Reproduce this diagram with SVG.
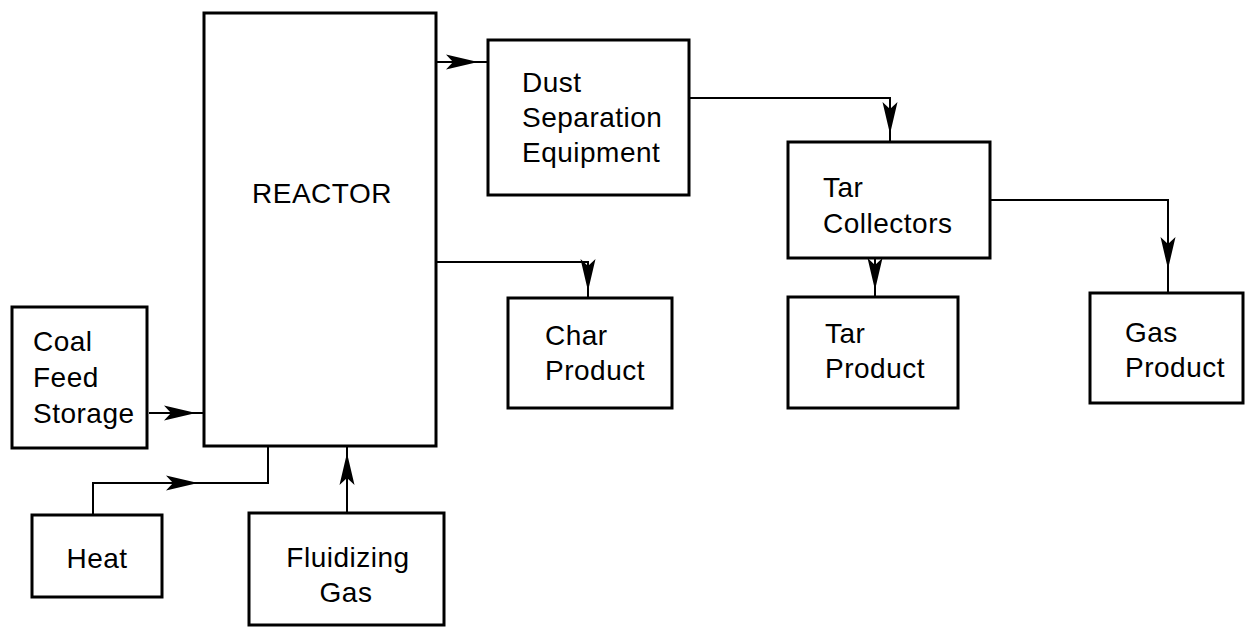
<svg xmlns="http://www.w3.org/2000/svg" xmlns:xlink="http://www.w3.org/1999/xlink" width="1246" height="628" viewBox="0 0 1246 628">
<style>
.box{fill:#fff;stroke:#000;stroke-width:3}
.lbl{font-family:"Liberation Sans",Arial,sans-serif;font-size:28px;fill:#000;letter-spacing:0.5px}
.con{fill:none;stroke:#000;stroke-width:2}
</style>
<defs>
<path id="ah" d="M0,0 L-32,-7.5 L-25,0 L-32,7.5 Z" fill="#000"/>
</defs>
<rect width="1246" height="628" fill="#fff"/>
<g id="connectors">
<path class="con" d="M149,413 H204"/>
<use xlink:href="#ah" transform="translate(196,413)"/>
<path class="con" d="M93,515 V483 H268 V446"/>
<use xlink:href="#ah" transform="translate(198,483)"/>
<path class="con" d="M347,513 V446"/>
<use xlink:href="#ah" transform="translate(347,453) rotate(-90)"/>
<path class="con" d="M436,62 H488"/>
<use xlink:href="#ah" transform="translate(478,62)"/>
<path class="con" d="M436,262 H588 V298"/>
<use xlink:href="#ah" transform="translate(588,291) rotate(90)"/>
<path class="con" d="M689,98 H890 V142"/>
<use xlink:href="#ah" transform="translate(890,134) rotate(90)"/>
<path class="con" d="M875,258 V297"/>
<use xlink:href="#ah" transform="translate(875,290) rotate(90)"/>
<path class="con" d="M990,200 H1168 V293"/>
<use xlink:href="#ah" transform="translate(1168,269) rotate(90)"/>
</g>
<g id="reactor">
<rect class="box" x="204" y="13" width="232" height="433"/>
<text class="lbl" x="322" y="203" text-anchor="middle">REACTOR</text>
</g>
<g id="coal">
<rect class="box" x="12" y="307" width="135" height="141"/>
<text class="lbl" x="33" y="351">Coal</text>
<text class="lbl" x="33" y="387">Feed</text>
<text class="lbl" x="33" y="423">Storage</text>
</g>
<g id="heat">
<rect class="box" x="32" y="515" width="130" height="82"/>
<text class="lbl" x="97" y="568" text-anchor="middle">Heat</text>
</g>
<g id="fluidizing">
<rect class="box" x="249" y="513" width="195" height="112"/>
<text class="lbl" x="348" y="567" text-anchor="middle">Fluidizing</text>
<text class="lbl" x="346" y="602" text-anchor="middle">Gas</text>
</g>
<g id="dust">
<rect class="box" x="488" y="40" width="201" height="155"/>
<text class="lbl" x="522" y="92">Dust</text>
<text class="lbl" x="522" y="127">Separation</text>
<text class="lbl" x="522" y="162">Equipment</text>
</g>
<g id="char">
<rect class="box" x="508" y="298" width="164" height="110"/>
<text class="lbl" x="545" y="345">Char</text>
<text class="lbl" x="545" y="380">Product</text>
</g>
<g id="tarcollectors">
<rect class="box" x="788" y="142" width="202" height="116"/>
<text class="lbl" x="823" y="197">Tar</text>
<text class="lbl" x="823" y="233">Collectors</text>
</g>
<g id="tarproduct">
<rect class="box" x="788" y="297" width="170" height="111"/>
<text class="lbl" x="825" y="343">Tar</text>
<text class="lbl" x="825" y="378">Product</text>
</g>
<g id="gasproduct">
<rect class="box" x="1090" y="293" width="153" height="110"/>
<text class="lbl" x="1125" y="342">Gas</text>
<text class="lbl" x="1125" y="377">Product</text>
</g>
</svg>
